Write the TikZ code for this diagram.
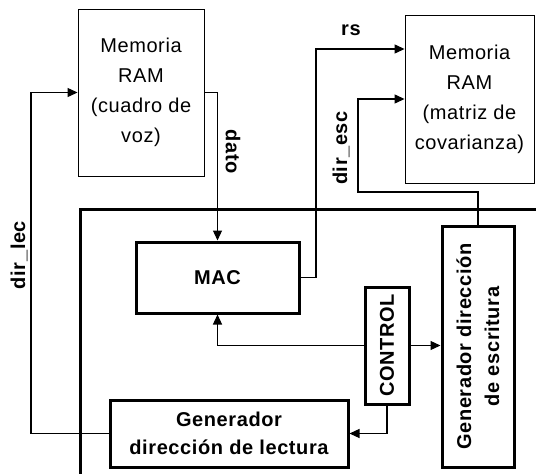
\documentclass[tikz,border=0pt]{standalone}
\usepackage{fontspec}
\setmainfont{Liberation Sans}[LetterSpace=3]
\usetikzlibrary{arrows.meta,positioning}

\begin{document}
\begin{tikzpicture}[x=1pt,y=-1pt,line width=1.2pt,
      mem/.style={draw,line width=0.9pt,align=center,inner sep=0pt,font=\fontsize{20}{30}\selectfont},
      blk/.style={draw,line width=3pt,align=center,inner sep=0pt,font=\bfseries\fontsize{20}{28}\selectfont},
      lbl/.style={inner sep=0pt,font=\bfseries\fontsize{20}{24}\selectfont},
      >={Triangle[length=10pt,width=9pt]}]
    \useasboundingbox (0,0) rectangle (536,474);
    % memorias
    \node[mem,minimum width=126pt,minimum height=167pt] (ramvoz) at (141,92.5) {Memoria\\RAM\\(cuadro de\\voz)};
    \node[mem,minimum width=129pt,minimum height=168pt] (ramcov) at (469.5,99) {Memoria\\RAM\\(matriz de\\covarianza)};
    % marco
    \draw[line width=3pt] (80,476) |- (538,209);
    % bloques
    \node[blk,minimum width=163pt,minimum height=71pt] (mac) at (217.5,277.5) {MAC};
    \node[blk,minimum width=238pt,minimum height=67pt] (lect) at (229,433.5) {Generador\\dirección de lectura};
    \node[blk,rotate=90,minimum width=241pt,minimum height=72pt] (esc) at (478,346.5) {Generador dirección\\de escritura};
    \node[blk,rotate=90,minimum width=117pt,minimum height=44pt] (ctrl) at (387,345.5) {CONTROL};
    % conexiones
    \coordinate (lecup) at (31,92.5);
    \coordinate (rsup) at (316,49);
    \coordinate (escbend) at (358,192);
    \coordinate (escup) at (358,99);
    \draw[->] (ramvoz.east) -| (mac.north);
    \draw[->] (lect.west) -| (lecup) -- (ramvoz.west);
    \draw[->] (mac.east) -| (rsup) -- (rsup -| ramcov.west);
    \draw[->] (esc.east) |- (escbend) -- (escup) -- (ramcov.west);
    \draw[->] (ctrl.north) -| (mac.south);
    \draw[->] (ctrl.south) -- (ctrl.south -| esc.north);
    \draw[->] (ctrl.west) |- (lect.east);
    % etiquetas
    \node[lbl,rotate=-90] (dato) at (233,152) {dato};
    \node[lbl,rotate=90] (dirlec) at (19,255) {dir\_lec};
    \node[lbl] (rs) at (351,30) {rs};
    \node[lbl,rotate=90] (diresc) at (341,148) {dir\_esc};
  \end{tikzpicture}
\end{document}
